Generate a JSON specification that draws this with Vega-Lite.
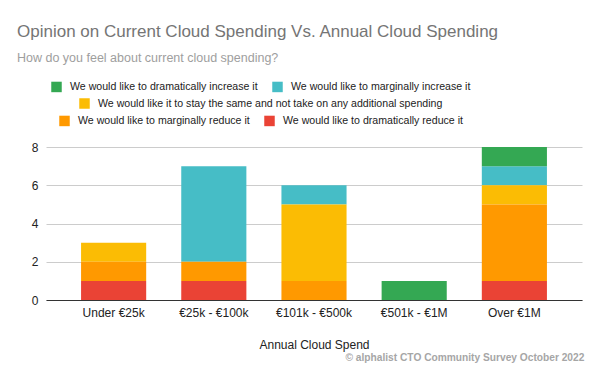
{
  "$schema": "https://vega.github.io/schema/vega-lite/v6.json",
  "width": 536,
  "height": 153,
  "autosize": {"type": "none"},
  "padding": {"left": 46, "top": 147, "right": 18, "bottom": 71},
  "background": "#ffffff",
  "title": {
    "text": "Opinion on Current Cloud Spending Vs. Annual Cloud Spending",
    "subtitle": "How do you feel about current cloud spending?",
    "anchor": "start",
    "frame": "group",
    "dx": -29,
    "offset": 16,
    "font": "Liberation Sans",
    "fontSize": 17,
    "fontWeight": "normal",
    "color": "#757575",
    "subtitleFont": "Liberation Sans",
    "subtitleFontSize": 12.5,
    "subtitleColor": "#9e9e9e",
    "subtitlePadding": 11
  },
  "data": {
    "values": [
      {"Range": "Under €25k", "Opinion": "We would like to dramatically reduce it", "rank": 1, "Count": 1},
      {"Range": "Under €25k", "Opinion": "We would like to marginally reduce it", "rank": 2, "Count": 1},
      {"Range": "Under €25k", "Opinion": "We would like it to stay the same and not take on any additional spending", "rank": 3, "Count": 1},
      {"Range": "€25k - €100k", "Opinion": "We would like to dramatically reduce it", "rank": 1, "Count": 1},
      {"Range": "€25k - €100k", "Opinion": "We would like to marginally reduce it", "rank": 2, "Count": 1},
      {"Range": "€25k - €100k", "Opinion": "We would like to marginally increase it", "rank": 4, "Count": 5},
      {"Range": "€101k - €500k", "Opinion": "We would like to marginally reduce it", "rank": 2, "Count": 1},
      {"Range": "€101k - €500k", "Opinion": "We would like it to stay the same and not take on any additional spending", "rank": 3, "Count": 4},
      {"Range": "€101k - €500k", "Opinion": "We would like to marginally increase it", "rank": 4, "Count": 1},
      {"Range": "€501k - €1M", "Opinion": "We would like to dramatically increase it", "rank": 5, "Count": 1},
      {"Range": "Over €1M", "Opinion": "We would like to dramatically reduce it", "rank": 1, "Count": 1},
      {"Range": "Over €1M", "Opinion": "We would like to marginally reduce it", "rank": 2, "Count": 4},
      {"Range": "Over €1M", "Opinion": "We would like it to stay the same and not take on any additional spending", "rank": 3, "Count": 1},
      {"Range": "Over €1M", "Opinion": "We would like to marginally increase it", "rank": 4, "Count": 1},
      {"Range": "Over €1M", "Opinion": "We would like to dramatically increase it", "rank": 5, "Count": 1}
    ]
  },
  "transform": [
    {"stack": "Count", "groupby": ["Range"], "sort": [{"field": "rank", "order": "ascending"}], "as": ["y0", "y1"]}
  ],
  "encoding": {
    "x": {
      "field": "Range",
      "type": "nominal",
      "sort": ["Under €25k", "€25k - €100k", "€101k - €500k", "€501k - €1M", "Over €1M"],
      "scale": {"paddingInner": 0.35, "paddingOuter": 0.35},
      "axis": {
        "title": "Annual Cloud Spend",
        "labelAngle": 0,
        "labelFontSize": 12,
        "labelColor": "#222222",
        "labelPadding": 7,
        "ticks": false,
        "domain": true,
        "domainColor": "#333333",
        "domainWidth": 1,
        "titleFontSize": 12,
        "titleFontWeight": "normal",
        "titleColor": "#222222",
        "titlePadding": 21
      }
    }
  },
  "layer": [
    {
      "transform": [{"filter": "datum.rank >= 4"}],
      "mark": {"type": "bar"},
      "encoding": {
        "y": {
          "field": "y1",
          "type": "quantitative",
          "scale": {"domain": [0, 8], "nice": false},
          "axis": {
            "title": null,
            "values": [0, 2, 4, 6, 8],
            "labelOverlap": false,
            "labelFontSize": 12,
            "labelColor": "#222222",
            "labelPadding": 8,
            "ticks": false,
            "domain": false,
            "gridColor": "#cccccc",
            "gridWidth": 1
          }
        },
        "y2": {"field": "y0"},
        "color": {
          "field": "Opinion",
          "type": "nominal",
          "scale": {
            "domain": ["We would like to dramatically increase it", "We would like to marginally increase it"],
            "range": ["#34a853", "#46bdc6"]
          },
          "legend": {"title": null, "orient": "top", "direction": "horizontal"}
        }
      }
    },
    {
      "transform": [{"filter": "datum.rank == 3"}],
      "mark": {"type": "bar"},
      "encoding": {
        "y": {
          "field": "y1",
          "type": "quantitative",
          "scale": {"domain": [0, 8], "nice": false},
          "axis": {
            "title": null,
            "values": [0, 2, 4, 6, 8],
            "labelOverlap": false,
            "labelFontSize": 12,
            "labelColor": "#222222",
            "labelPadding": 8,
            "ticks": false,
            "domain": false,
            "gridColor": "#cccccc",
            "gridWidth": 1
          }
        },
        "y2": {"field": "y0"},
        "color": {
          "field": "Opinion",
          "type": "nominal",
          "scale": {
            "domain": ["We would like it to stay the same and not take on any additional spending"],
            "range": ["#fbbc04"]
          },
          "legend": {"title": null, "orient": "top", "direction": "horizontal"}
        }
      }
    },
    {
      "transform": [{"filter": "datum.rank <= 2"}],
      "mark": {"type": "bar"},
      "encoding": {
        "y": {
          "field": "y1",
          "type": "quantitative",
          "scale": {"domain": [0, 8], "nice": false},
          "axis": {
            "title": null,
            "values": [0, 2, 4, 6, 8],
            "labelOverlap": false,
            "labelFontSize": 12,
            "labelColor": "#222222",
            "labelPadding": 8,
            "ticks": false,
            "domain": false,
            "gridColor": "#cccccc",
            "gridWidth": 1
          }
        },
        "y2": {"field": "y0"},
        "color": {
          "field": "Opinion",
          "type": "nominal",
          "scale": {
            "domain": ["We would like to marginally reduce it", "We would like to dramatically reduce it"],
            "range": ["#ff9900", "#ea4335"]
          },
          "legend": {"title": null, "orient": "top", "direction": "horizontal"}
        }
      }
    },
    {
      "data": {"values": [{"note": "© alphalist CTO Community Survey October 2022"}]},
      "mark": {"type": "text", "align": "right", "baseline": "middle", "dx": 70, "fontSize": 10.2, "fontWeight": "bold", "color": "#a6a6a6", "font": "Liberation Sans"},
      "encoding": {
        "x": {"datum": "Over €1M"},
        "y": {
          "datum": -3.05,
          "scale": {"domain": [0, 8], "nice": false},
          "axis": {
            "title": null,
            "values": [0, 2, 4, 6, 8],
            "labelOverlap": false,
            "labelFontSize": 12,
            "labelColor": "#222222",
            "labelPadding": 8,
            "ticks": false,
            "domain": false,
            "gridColor": "#cccccc",
            "gridWidth": 1
          }
        },
        "text": {"field": "note"}
      }
    }
  ],
  "resolve": {"scale": {"color": "independent"}, "legend": {"color": "independent"}},
  "config": {
    "font": "Liberation Sans",
    "view": {"stroke": null},
    "legend": {
      "layout": {"top": {"anchor": "start", "direction": "vertical", "center": true, "margin": 5}},
      "symbolType": "square",
      "symbolSize": 110,
      "symbolStrokeWidth": 0,
      "symbolOpacity": 1,
      "symbolOffset": 5,
      "labelFontSize": 10.6,
      "labelColor": "#222222",
      "labelOffset": 8,
      "labelLimit": 500,
      "columnPadding": 9,
      "padding": 0,
      "offset": 20
    }
  }
}
